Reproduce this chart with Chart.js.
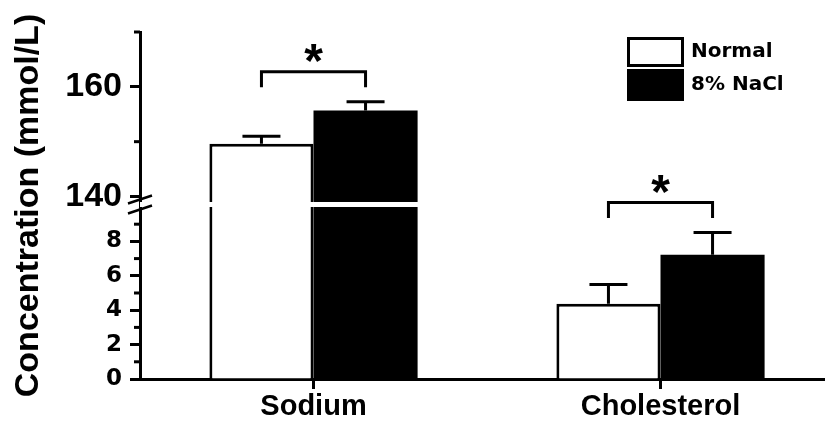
<!DOCTYPE html>
<html>
<head>
<meta charset="utf-8">
<script src="https://cdn.jsdelivr.net/npm/chart.js@4.4.1/dist/chart.umd.min.js"></script>
<style>
  html, body { margin: 0; padding: 0; background: #fff; overflow: hidden; width: 825px; height: 426px; }
  #wrap { width: 834px; height: 426px; }
</style>
</head>
<body>
<div id="wrap"><canvas id="c" width="834" height="426"></canvas></div>
<script>
// ---- data ----
const categories = ['Sodium', 'Cholesterol'];
const seriesNames = ['Normal', '8% NaCl'];
const normalMean = [149.6, 4.37];
const normalSem = [1.4, 1.13];
const naclMean = [155.7, 7.23];
const naclSem = [1.6, 1.29];
const significance = ['*', '*'];
const lowerRange = [0, 10];
const upperRange = [139, 170];
const majorTicks = [0, 2, 4, 6, 8, 140, 160];
const minorTicks = [1, 3, 5, 7, 9, 150, 170];
const yTitle = 'Concentration (mmol/L)';

// ---- styling ----
const SANS = "'Liberation Sans', Arial, sans-serif";
const WIDE = "'DejaVu Sans', sans-serif";
const LOWER_FRACTION = 0.4957;
const GAP_PX = 5;

const LinearScale = Chart.LinearScale || Chart.registry.getScale('linear');
class BrokenLinearScale extends LinearScale {
  buildTicks() {
    this.start = this.min; this.end = this.max;
    return majorTicks.map(v => ({ value: v }));
  }
  segments() {
    const h = this.bottom - this.top;
    const lowTop = this.bottom - h * LOWER_FRACTION;
    return { lowTop, upBottom: lowTop - GAP_PX };
  }
  getPixelForValue(value) {
    const { lowTop, upBottom } = this.segments();
    if (value <= lowerRange[1]) {
      return this.bottom - (value - lowerRange[0]) / (lowerRange[1] - lowerRange[0]) * (this.bottom - lowTop);
    }
    const v = Math.max(value, upperRange[0]);
    return upBottom - (v - upperRange[0]) / (upperRange[1] - upperRange[0]) * (upBottom - this.top);
  }
  getValueForPixel(pixel) {
    const { lowTop, upBottom } = this.segments();
    if (pixel >= lowTop) {
      return lowerRange[0] + (this.bottom - pixel) / (this.bottom - lowTop) * (lowerRange[1] - lowerRange[0]);
    }
    return upperRange[0] + (upBottom - pixel) / (upBottom - this.top) * (upperRange[1] - upperRange[0]);
  }
}
BrokenLinearScale.id = 'brokenLinear';
BrokenLinearScale.defaults = LinearScale.defaults;
Chart.register(BrokenLinearScale);

const annotate = {
  id: 'annotate',
  afterDatasetsDraw(chart) {
    const ctx = chart.ctx, y = chart.scales.y, area = chart.chartArea;
    const seg = y.segments();
    ctx.save();
    // white break gap through the bars
    ctx.fillStyle = '#fff';
    ctx.fillRect(area.left, seg.upBottom, area.right - area.left, seg.lowTop - seg.upBottom);
    // error bars
    ctx.strokeStyle = '#000';
    ctx.lineWidth = 3;
    const caps = [];
    chart.data.datasets.forEach((ds, di) => {
      const meta = chart.getDatasetMeta(di);
      meta.data.forEach((bar, i) => {
        const top = y.getPixelForValue(ds.data[i] + ds.errors[i]);
        ctx.beginPath();
        ctx.moveTo(bar.x, bar.y);
        ctx.lineTo(bar.x, top);
        ctx.moveTo(bar.x - 19, top);
        ctx.lineTo(bar.x + 19, top);
        ctx.stroke();
        caps[i] = Math.min(caps[i] === undefined ? Infinity : caps[i], top);
      });
    });
    // significance brackets
    const m0 = chart.getDatasetMeta(0), m1 = chart.getDatasetMeta(1);
    significance.forEach((mark, i) => {
      if (!mark) return;
      const x0 = m0.data[i].x, x1 = m1.data[i].x;
      const legBottom = caps[i] - 14.5;
      const by = legBottom - 15.5;
      ctx.beginPath();
      ctx.moveTo(x0, legBottom);
      ctx.lineTo(x0, by);
      ctx.lineTo(x1, by);
      ctx.lineTo(x1, legBottom);
      ctx.stroke();
      ctx.font = 'bold 48px ' + SANS;
      ctx.fillStyle = '#000';
      ctx.textAlign = 'center';
      ctx.textBaseline = 'alphabetic';
      const mt = ctx.measureText(mark);
      const cy = by - 18.7;
      const base = cy + (mt.actualBoundingBoxAscent - mt.actualBoundingBoxDescent) / 2;
      ctx.fillText(mark, (x0 + x1) / 2, base);
    });
    ctx.restore();
  },
  afterDraw(chart) {
    const ctx = chart.ctx, y = chart.scales.y, area = chart.chartArea;
    const seg = y.segments();
    ctx.save();
    ctx.strokeStyle = '#000';
    // minor ticks
    ctx.lineWidth = 3;
    minorTicks.forEach(v => {
      const py = y.getPixelForValue(v);
      ctx.beginPath();
      ctx.moveTo(area.left - 6, py);
      ctx.lineTo(area.left, py);
      ctx.stroke();
    });
    // axis break marks
    ctx.lineWidth = 2.5;
    const mid = (seg.upBottom + seg.lowTop) / 2;
    [-5, 5].forEach(d => {
      ctx.beginPath();
      ctx.moveTo(area.left - 12, mid + d + 4);
      ctx.lineTo(area.left + 12, mid + d - 4);
      ctx.stroke();
    });
    // legend
    const lx = 627, lw = 57;
    const rows = [{ top: 37, h: 30 }, { top: 69, h: 32 }];
    chart.data.datasets.forEach((ds, i) => {
      const r = rows[i];
      ctx.fillStyle = ds.backgroundColor;
      ctx.fillRect(lx, r.top, lw, r.h);
      ctx.lineWidth = 3;
      ctx.strokeStyle = '#000';
      ctx.strokeRect(lx + 1.5, r.top + 1.5, lw - 3, r.h - 3);
      ctx.fillStyle = '#000';
      ctx.font = 'bold 20px ' + WIDE;
      ctx.textAlign = 'left';
      ctx.textBaseline = 'middle';
      ctx.fillText(ds.label, 691, r.top + r.h / 2);
    });
    ctx.restore();
  }
};

new Chart(document.getElementById('c'), {
  type: 'bar',
  data: {
    labels: categories,
    datasets: [
      { label: seriesNames[0], data: normalMean, errors: normalSem,
        backgroundColor: '#ffffff', borderColor: '#000000', borderWidth: 3 },
      { label: seriesNames[1], data: naclMean, errors: naclSem,
        backgroundColor: '#000000', borderColor: '#000000', borderWidth: 0 }
    ]
  },
  options: {
    responsive: false,
    animation: false,
    events: [],
    devicePixelRatio: 1,
    barPercentage: 1.0,
    categoryPercentage: 0.6,
    layout: { padding: { top: 32, right: 0, bottom: 0, left: 0 } },
    plugins: { legend: { display: false }, tooltip: { enabled: false } },
    scales: {
      x: {
        offset: true,
        z: 1,
        border: { display: true, color: '#000', width: 3 },
        grid: { drawOnChartArea: false, offset: false, tickLength: 10, tickWidth: 3, tickColor: '#000' },
        ticks: { color: '#000', padding: 1, maxRotation: 0, font: { family: SANS, size: 29, weight: 'bold' } },
        afterFit: s => { s.height = 47; }
      },
      y: {
        type: 'brokenLinear',
        min: 0,
        max: 170,
        z: 1,
        border: { display: true, color: '#000', width: 3 },
        grid: { drawOnChartArea: false, tickLength: 10, tickWidth: 3, tickColor: '#000' },
        ticks: {
          autoSkip: false,
          padding: 8,
          color: '#000',
          callback: v => String(v),
          font: c => (c.tick && c.tick.value > lowerRange[1])
            ? { family: SANS, size: 34, weight: 'bold' }
            : { family: WIDE, size: 23, weight: 'bold' }
        },
        title: {
          display: true,
          text: yTitle,
          color: '#000',
          font: { family: SANS, size: 34, weight: 'bold' },
          padding: { top: 8, bottom: 0 }
        },
        afterFit: s => { s.width = 140; }
      }
    }
  },
  plugins: [annotate]
});
</script>
</body>
</html>
